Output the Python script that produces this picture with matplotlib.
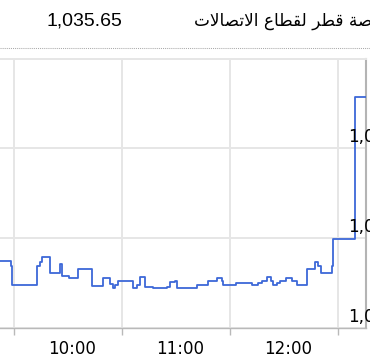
import matplotlib
matplotlib.use("Agg")
import matplotlib.pyplot as plt
from matplotlib.lines import Line2D
from matplotlib.transforms import ScaledTranslation

# Intraday index level, minutes after the 9:30 open -> level (step series)
minutes = [-9.0, -1.7, -0.9, 12.6, 14.4, 15.4, 20.0, 25.6, 26.8, 30.6, 35.7, 43.2,
           49.6, 53.3, 54.8, 56.1, 58.0, 66.3, 68.2, 70.0, 72.8, 77.0, 84.8, 86.7,
           89.4, 90.4, 101.5, 107.8, 112.8, 115.6, 116.4, 123.3, 132.2, 135.3,
           137.6, 140.7, 142.6, 143.7, 145.9, 147.8, 151.1, 154.3, 157.4, 162.6,
           167.2, 169.1, 170.4, 176.8, 177.4, 189.4, 196.0]
levels = [1017.44, 1016.88, 1014.75, 1016.88, 1017.29, 1017.88, 1016.15, 1017.15,
          1015.78, 1015.52, 1016.52, 1014.61, 1015.52, 1014.86, 1014.39, 1014.75,
          1015.16, 1014.39, 1014.75, 1015.71, 1014.50, 1014.39, 1014.50, 1015.05,
          1015.16, 1014.39, 1014.75, 1015.23, 1015.52, 1015.16, 1014.75, 1014.97,
          1014.75, 1014.97, 1015.23, 1015.71, 1015.23, 1014.75, 1014.97, 1015.23,
          1015.52, 1015.16, 1014.75, 1016.52, 1017.37, 1016.88, 1016.15, 1016.88,
          1019.91, 1035.65, 1035.65]

last_value = "1,035.65"
# "بورصة قطر لقطاع الاتصالات" in presentation forms, visual (left-to-right) order
title_ar = ("\ufe95\ufefb\ufe8e\ufebc\ufe97\ufefb\ufe8d "
            "\ufec9\ufe8e\ufec4\ufed8\ufedf "
            "\ufeae\ufec4\ufed7 "
            "\ufe94\ufebb\ufead\ufeee\ufe91")

grid_minutes = [0, 60, 120, 180]          # 9:30, 10:30, 11:30, 12:30
hour_minutes = [30, 90, 150]
hour_labels = ["10:00", "11:00", "12:00"]
y_ticks = [1010, 1020, 1030]
y_labels = ["1,010", "1,020", "1,030"]

W, H = 370, 362
fig = plt.figure(figsize=(W / 100, H / 100), dpi=100)
fig.patch.set_facecolor("white")

# header
fig.text(84.5 / W, 1 - 21 / H, last_value, family="Liberation Sans", fontsize=14,
         ha="center", va="center", color="black")
fig.text(194 / W, 1 - 21 / H, title_ar, family="DejaVu Sans", fontsize=12.2,
         ha="left", va="center", color="black")
fig.add_artist(Line2D([0, 1], [1 - 48 / H, 1 - 48 / H], transform=fig.transFigure,
                      color="#aaaaaa", lw=0.75, ls=(0, (1, 1))))

left, right, top, bottom = 0, 365.5, 58.5, 328
ax = fig.add_axes([left / W, 1 - bottom / H, (right - left) / W, (bottom - top) / H])

ax.plot(minutes, levels, drawstyle="steps-post", color="#3d68d8", lw=1.3, zorder=3)

ax.set_xlim(-7.78, 195.3)
ax.set_ylim(1010.1, 1039.9)

ax.set_xticks(grid_minutes)
ax.set_xticklabels([])
ax.set_xticks(hour_minutes, minor=True)
ax.set_xticklabels(hour_labels, minor=True)
ax.tick_params(axis="x", which="major", length=5, width=1, color="#b9b9b9")
ax.tick_params(axis="x", which="minor", length=0, pad=8.5, labelsize=12)
offset = ScaledTranslation(4 / 100, 0, fig.dpi_scale_trans)
for lbl in ax.get_xticklabels(minor=True):
    lbl.set_transform(lbl.get_transform() + offset)

# y labels sit inside the right edge and run past the figure, as in the source
ax.set_yticks(y_ticks)
ax.tick_params(axis="y", which="both", length=0, labelleft=False, labelright=False)
for v, s in zip(y_ticks, y_labels):
    ax.annotate(s, xy=(1, v), xycoords=("axes fraction", "data"),
                xytext=(-12.3, 4), textcoords="offset points",
                ha="left", va="baseline", fontsize=12, color="black",
                annotation_clip=False, zorder=4)

ax.grid(True, which="major", color="#e6e6e6", lw=1.4)
ax.set_axisbelow(True)

ax.spines["left"].set_visible(False)
ax.spines["top"].set_color("#e6e6e6")
ax.spines["top"].set_linewidth(1.4)
ax.spines["right"].set_color("#b4b4b4")
ax.spines["right"].set_linewidth(1.5)
ax.spines["bottom"].set_color("#b9b9b9")
ax.spines["bottom"].set_linewidth(1)

fig.savefig("out.png", dpi=100, facecolor="white")
